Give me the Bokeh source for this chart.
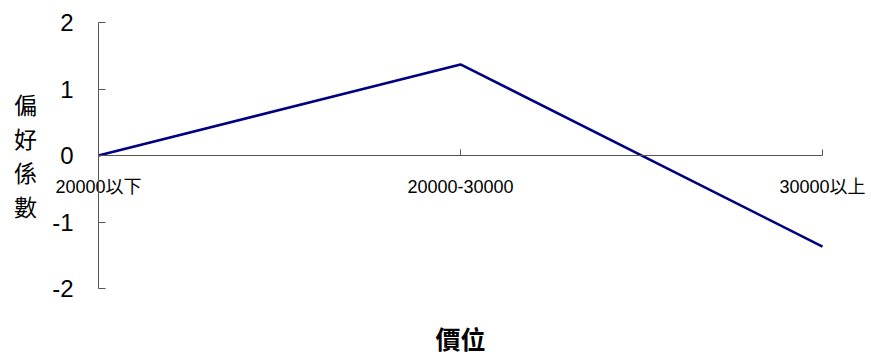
from bokeh.plotting import figure
from bokeh.models import Range1d, LinearAxis, FixedTicker, Label
from bokeh.embed import file_html
from bokeh.resources import INLINE

# Preference coefficient by price band
categories = ["20000以下", "20000-30000", "30000以上"]
coefficients = [0.0, 1.37, -1.37]
y_ticks = [-2, -1, 0, 1, 2]

xs = list(range(len(categories)))
FONT = "'Liberation Sans', 'Noto Sans CJK TC', sans-serif"
CJK = "'Noto Sans CJK TC', sans-serif"

W, H = 871, 354
# plot area inside the canvas (pixels): left, right, top, bottom
L, R, T, B = 98, 822, 22, 288
x0, x1 = 0, len(categories) - 1
y0, y1 = -2, 2
dx = (x1 - x0) / (R - L)
dy = (y1 - y0) / (B - T)

p = figure(width=W, height=H, output_backend="svg", toolbar_location=None,
           x_range=Range1d(x0 - L * dx, x1 + (W - R) * dx),
           y_range=Range1d(y0 - (H - B) * dy, y1 + T * dy),
           min_border=0, x_axis_type=None, y_axis_type=None)
p.outline_line_color = None
p.grid.visible = False
p.background_fill_color = "white"
p.border_fill_color = "white"

axis_color = "#555555"

yaxis = LinearAxis(ticker=FixedTicker(ticks=y_ticks), fixed_location=x0,
                   bounds=(y0, y1))
yaxis.axis_line_color = axis_color
yaxis.major_tick_line_color = axis_color
yaxis.major_tick_in = 7
yaxis.major_tick_out = 0
yaxis.minor_tick_line_color = None
yaxis.major_label_text_font = FONT
yaxis.major_label_text_font_size = "24px"
yaxis.major_label_text_color = "black"
yaxis.major_label_standoff = 25
yaxis.major_label_overrides = {t: str(t) for t in y_ticks}
p.add_layout(yaxis, "left")

# category axis running along the zero line
xaxis = LinearAxis(ticker=FixedTicker(ticks=xs), fixed_location=0,
                   bounds=(x0, x1))
xaxis.axis_line_color = axis_color
xaxis.major_tick_line_color = axis_color
xaxis.major_tick_in = 6
xaxis.major_tick_out = 0
xaxis.minor_tick_line_color = None
xaxis.major_label_text_font = FONT
xaxis.major_label_text_font_size = "18px"
xaxis.major_label_text_color = "black"
xaxis.major_label_standoff = 21
xaxis.major_label_overrides = {x: c for x, c in zip(xs, categories)}
p.add_layout(xaxis, "below")

p.line(xs, coefficients, line_color="#000080", line_width=2.6)

# vertical axis title, one character per line
for i, ch in enumerate("偏好係數"):
    p.add_layout(Label(x=25, y=H - 103 - i * 34, x_units="screen",
                       y_units="screen", text=ch, text_align="center",
                       text_baseline="middle", text_font_size="23px",
                       text_font=CJK, text_color="black"))

p.add_layout(Label(x=460, y=H - 337, x_units="screen", y_units="screen",
                   text="價位", text_align="center", text_baseline="middle",
                   text_font_size="25px", text_font=CJK,
                   text_font_style="bold", text_color="black"))

open("out.html", "w").write(file_html(p, INLINE))
